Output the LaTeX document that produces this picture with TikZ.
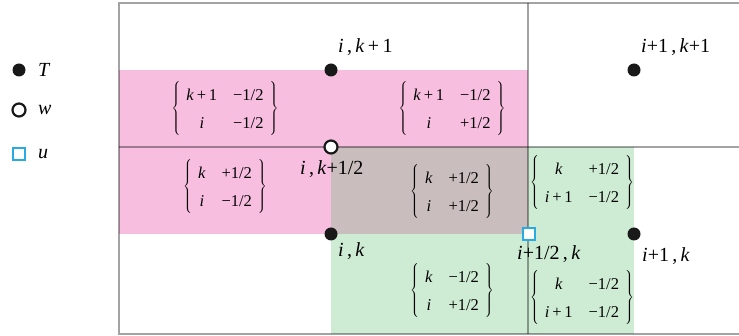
\documentclass[tikz,border=0pt]{standalone}
\usepackage{fontspec}
\setmainfont{Liberation Serif}
\definecolor{pinkc}{RGB}{247,190,224}
\definecolor{greenc}{RGB}{206,235,212}
\definecolor{overc}{RGB}{201,189,189}
\definecolor{blueu}{RGB}{41,171,226}
\newcommand\brmat[4]{$\left\{\renewcommand\arraystretch{1.5}\begin{tabular}{@{\hspace{6pt}}c@{\hspace{16pt}}c@{\hspace{6pt}}}#1&#2\\#3&#4\end{tabular}\right\}$}
\newcommand\vi{\textit{i}}
\newcommand\vk{\textit{k}}
\begin{document}
\begin{tikzpicture}[x=1pt,y=-1pt,
  mat/.style={inner sep=0pt, font=\fontsize{16.5}{19}\selectfont},
  lab/.style={inner sep=0pt, anchor=base west, font=\fontsize{20}{24}\selectfont},
  Tdot/.style={circle, fill=black!90, minimum size=13pt, inner sep=0pt},
  wdot/.style={circle, draw=black!90, line width=2.2pt, fill=white, minimum size=13pt, inner sep=0pt},
  usq/.style={rectangle, draw=blueu, line width=2.2pt, fill=white, minimum size=12pt, inner sep=0pt},
  gridline/.style={draw=black, opacity=0.36, line width=2.2pt}]
\useasboundingbox (0,0) rectangle (739,336);
% shaded regions
\fill[pinkc] (119,70) rectangle (528,234);
\fill[greenc] (331,147) rectangle (634,334);
\fill[overc] (331,147) rectangle (528,234);
% grid
\draw[gridline] (739,3) -- (119,3) -- (119,334) -- (739,334);
\draw[gridline] (528,3) -- (528,334);
\draw[gridline] (119,147) -- (739,147);
% matrices
\node[mat] (m1) at (225,109) {\brmat{\vk\,+\,1}{−1/2}{\vi}{−1/2}};
\node[mat] (m2) at (452,109) {\brmat{\vk\,+\,1}{−1/2}{\vi}{+1/2}};
\node[mat] (m3) at (225,187) {\brmat{\vk}{+1/2}{\vi}{−1/2}};
\node[mat] (m4) at (452,192) {\brmat{\vk}{+1/2}{\vi}{+1/2}};
\node[mat] (m5) at (582,183) {\brmat{\vk}{+1/2}{\vi\,+\,1}{−1/2}};
\node[mat] (m6) at (452,291) {\brmat{\vk}{−1/2}{\vi}{+1/2}};
\node[mat] (m7) at (582,298) {\brmat{\vk}{−1/2}{\vi\,+\,1}{−1/2}};
% points
\node[Tdot] (p1) at (331,70) {};
\node[Tdot] (p2) at (634,70) {};
\node[Tdot] (p3) at (331,234) {};
\node[Tdot] (p4) at (634,234) {};
\node[wdot] (pw) at (331,147) {};
\node[usq] (pu) at (529,234) {};
% labels
\node[lab] (l1) at (338,53) {\vi\,,\,\vk\,+\,1};
\node[lab] (l2) at (641,53) {\vi+1\,,\,\vk+1};
\node[lab] (l3) at (300,175) {\vi\,,\,\vk+1/2};
\node[lab] (l4) at (338,257) {\vi\,,\,\vk};
\node[lab] (l5) at (517,260) {\vi+1/2\,,\,\vk};
\node[lab] (l6) at (642,262) {\vi+1\,,\,\vk};
% legend
\node[Tdot] (gT) at (19,70) {};
\node[lab] (tT) at (38,77) {\textit{T}};
\node[wdot] (gw) at (19,110) {};
\node[lab] (tw) at (38,115) {\textit{w}};
\node[usq] (gu) at (19,154) {};
\node[lab] (tu) at (38,159) {\textit{u}};
\end{tikzpicture}
\end{document}
